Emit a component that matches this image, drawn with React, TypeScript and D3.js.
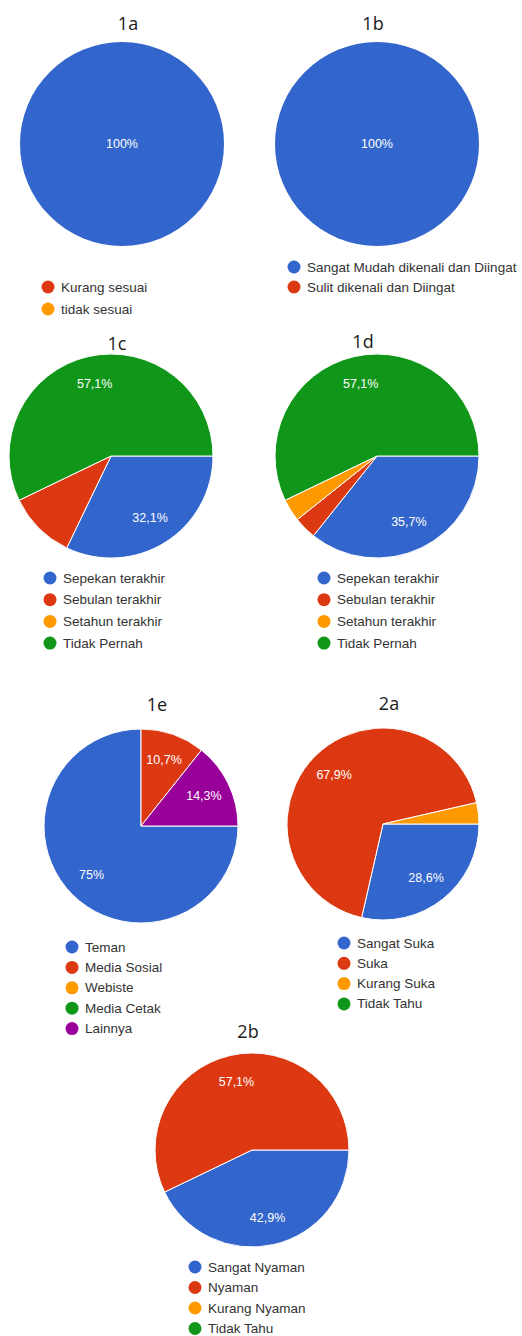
import * as d3 from 'd3'

const BLUE = '#3366cc'
const RED = '#dc3912'
const ORANGE = '#ff9900'
const GREEN = '#109618'
const PURPLE = '#990099'

// responses out of 28 per question
const values1a = [28]
const colors1a = [BLUE]
const legend1a = ['Kurang sesuai', 'tidak sesuai']
const legendColors1a = [RED, ORANGE]

const values1b = [28, 0]
const colors1b = [BLUE, RED]
const legend1b = ['Sangat Mudah dikenali dan Diingat', 'Sulit dikenali dan Diingat']

const categories1c = ['Sepekan terakhir', 'Sebulan terakhir', 'Setahun terakhir', 'Tidak Pernah']
const values1c = [9, 3, 0, 16]
const labelled1c = [true, false, false, true]

const values1d = [10, 1, 1, 16]
const labelled1d = [true, false, false, true]

const categories1e = ['Teman', 'Media Sosial', 'Webiste', 'Media Cetak', 'Lainnya']
const values1e = [21, 3, 0, 0, 4]
const labelled1e = [true, true, false, false, true]

const categories2a = ['Sangat Suka', 'Suka', 'Kurang Suka', 'Tidak Tahu']
const values2a = [8, 19, 1, 0]
const labelled2a = [true, true, false, false]

const categories2b = ['Sangat Nyaman', 'Nyaman', 'Kurang Nyaman', 'Tidak Tahu']
const values2b = [12, 16, 0, 0]
const labelled2b = [true, true, false, false]

const colors4 = [BLUE, RED, ORANGE, GREEN]
const colors5 = [BLUE, RED, ORANGE, GREEN, PURPLE]

interface ChartSpec {
  title: string
  values: number[]
  colors: string[]
  labelled?: boolean[]
  legend: string[]
  legendColors: string[]
  cx: number
  cy: number
  r: number
  tx: number
  ty: number
  lx: number
  ly: number
  step: number
}

const charts: ChartSpec[] = [
  { title: '1a', values: values1a, colors: colors1a, legend: legend1a, legendColors: legendColors1a,
    cx: 122, cy: 144, r: 102, tx: 128, ty: 23, lx: 48, ly: 287, step: 22 },
  { title: '1b', values: values1b, colors: colors1b, labelled: [true, false], legend: legend1b, legendColors: colors1b,
    cx: 377, cy: 144, r: 102, tx: 373, ty: 23, lx: 294, ly: 267, step: 20 },
  { title: '1c', values: values1c, colors: colors4, labelled: labelled1c, legend: categories1c, legendColors: colors4,
    cx: 111, cy: 456, r: 102, tx: 117, ty: 343, lx: 50, ly: 578, step: 21.7 },
  { title: '1d', values: values1d, colors: colors4, labelled: labelled1d, legend: categories1c, legendColors: colors4,
    cx: 377, cy: 456, r: 102, tx: 363, ty: 341, lx: 324, ly: 578, step: 21.7 },
  { title: '1e', values: values1e, colors: colors5, labelled: labelled1e, legend: categories1e, legendColors: colors5,
    cx: 141, cy: 826, r: 97, tx: 157, ty: 704, lx: 72, ly: 947, step: 20.4 },
  { title: '2a', values: values2a, colors: colors4, labelled: labelled2a, legend: categories2a, legendColors: colors4,
    cx: 383, cy: 824, r: 96, tx: 389, ty: 703, lx: 344, ly: 943, step: 20.3 },
  { title: '2b', values: values2b, colors: colors4, labelled: labelled2b, legend: categories2b, legendColors: colors4,
    cx: 252, cy: 1150, r: 97, tx: 248, ty: 1031, lx: 195, ly: 1267, step: 20.5 },
]

const fmtPct = (v: number) => {
  const s = d3.format('.1f')(v * 100)
  return (s.endsWith('.0') ? s.slice(0, -2) : s.replace('.', ',')) + '%'
}

function Pie({ spec }: { spec: ChartSpec }) {
  const total = d3.sum(spec.values)
  const pie = d3
    .pie<number>()
    .sort(null)
    .startAngle(Math.PI / 2)
    .endAngle(Math.PI / 2 + 2 * Math.PI)
  const arcs = pie(spec.values)
  const arc = d3.arc<d3.PieArcDatum<number>>().innerRadius(0).outerRadius(spec.r)
  const labelArc = d3
    .arc<d3.PieArcDatum<number>>()
    .innerRadius(spec.r * 0.72)
    .outerRadius(spec.r * 0.72)
  const single = spec.values.filter(v => v > 0).length === 1

  return (
    <g>
      <text
        x={spec.tx}
        y={spec.ty}
        textAnchor="middle"
        dominantBaseline="central"
        fontFamily="'Open Sans', Lato, sans-serif"
        fontSize={18}
        fill="#1a1a1a"
      >
        {spec.title}
      </text>
      <g transform={`translate(${spec.cx},${spec.cy})`}>
        {single ? (
          <circle r={spec.r} fill={spec.colors[spec.values.findIndex(v => v > 0)]} />
        ) : (
          arcs.map((a, i) =>
            a.value > 0 ? (
              <path key={i} d={arc(a) ?? ''} fill={spec.colors[i]} stroke="#fff" strokeWidth={1} />
            ) : null
          )
        )}
        {arcs.map((a, i) => {
          if (a.value <= 0) return null
          if (spec.labelled && !spec.labelled[i]) return null
          const [x, y] = single ? [0, 0] : labelArc.centroid(a)
          return (
            <text
              key={'l' + i}
              x={x}
              y={y}
              textAnchor="middle"
              dominantBaseline="central"
              fontFamily="'Liberation Sans', Arial, sans-serif"
              fontSize={12.5}
              fill="#fff"
            >
              {fmtPct(a.value / total)}
            </text>
          )
        })}
      </g>
      <g>
        {spec.legend.map((name, i) => (
          <g key={name} transform={`translate(${spec.lx},${spec.ly + i * spec.step})`}>
            <circle r={6.5} fill={spec.legendColors[i]} />
            <text
              x={13}
              y={0}
              dominantBaseline="central"
              fontFamily="'Liberation Sans', Arial, sans-serif"
              fontSize={13.5}
              fill="#333"
            >
              {name}
            </text>
          </g>
        ))}
      </g>
    </g>
  )
}

export default function App() {
  return (
    <svg
      width={522}
      height={1336}
      style={{ position: 'absolute', left: 0, top: 0, background: '#fff' }}
    >
      <rect width={522} height={1336} fill="#fff" />
      {charts.map(c => (
        <Pie key={c.title} spec={c} />
      ))}
    </svg>
  )
}
